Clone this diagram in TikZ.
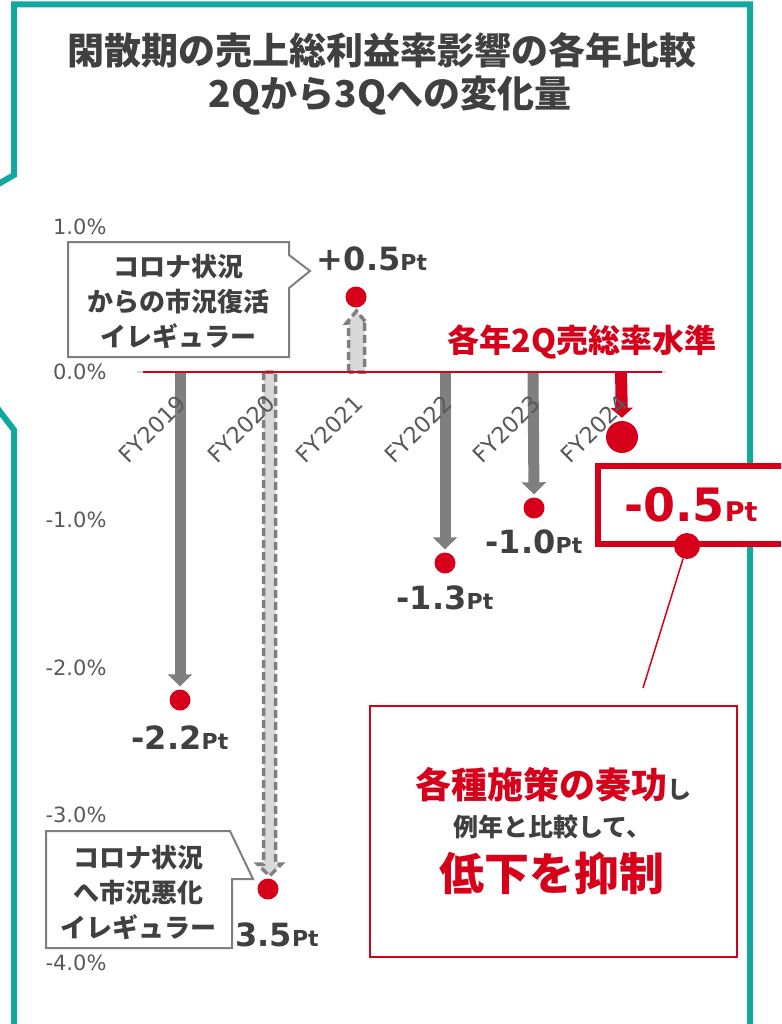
\documentclass[tikz,border=0pt]{standalone}
\usepackage{fontspec}
\setmainfont{DejaVu Sans}
\newfontfamily\jp{Noto Sans CJK JP}
\usetikzlibrary{arrows.meta}
\usetikzlibrary{calc}

\definecolor{framegreen}{RGB}{18,168,160}
\definecolor{accred}{RGB}{215,0,27}
\definecolor{bargray}{RGB}{127,127,127}
\definecolor{barlight}{RGB}{217,217,217}
\definecolor{textgray}{RGB}{64,64,64}
\definecolor{axisgray}{RGB}{89,89,89}

\newcommand{\ptval}[1]{{\fontsize{32}{32}\selectfont #1}{\fontsize{22}{22}\selectfont Pt}}

\begin{document}
\begin{tikzpicture}[x=1pt, y=-1pt,
gbar/.style = {line width=11pt, bargray, -{Triangle[width=24pt,length=12pt]}, shorten >=3pt},
dbar/.style = {draw=bargray, fill=barlight, line width=3.5pt, dash pattern=on 8pt off 4pt},
valdot/.style = {circle, fill=accred, inner sep=0pt, minimum size=21pt},
ylab/.style = {anchor=east, text=axisgray, font=\fontsize{21}{21}\selectfont},
fylab/.style = {anchor=east, rotate=45, inner sep=0pt, text=axisgray, font=\fontsize{22.5}{22.5}\selectfont},
ptlab/.style = {text=textgray, font=\bfseries},
bubble/.style = {draw=bargray, line width=2pt, fill=white},
bubtext/.style = {align=center, text=textgray, font=\jp\bfseries\fontsize{26}{35}\selectfont}]

\useasboundingbox (0,0) rectangle (781,1024);
\clip (0,0) rectangle (781,1024);
\fill[white] (0,0) rectangle (781,1024);

% frame
\draw[framegreen, line width=6pt] (14,1040) -- (14,430) -- (-12,396) (-12,190) -- (14,175) -- (14,4.5) -- (750,4.5) -- (750,1040);

% title
\node[text=textgray, font=\jp\bfseries\fontsize{37}{37}\selectfont] (title1) at (382,50) {閑散期の売上総利益率影響の各年比較};
\node[text=textgray, font=\jp\bfseries\fontsize{37}{37}\selectfont] (title2) at (390,96) {2Qから3Qへの変化量};

% y axis
\node[ylab] (y1) at (110,227) {1.0\%};
\node[ylab] (y0) at (110,372) {0.0\%};
\node[ylab] (ym1) at (110,520) {-1.0\%};
\node[ylab] (ym2) at (110,668) {-2.0\%};
\node[ylab] (ym3) at (110,815) {-3.0\%};
\node[ylab] (ym4) at (110,963) {-4.0\%};

\coordinate (axl) at (137,372);
\coordinate (axr) at (666,372);
\draw[barlight, line width=2.5pt] (axl) -- (axr);

% dots
\node[valdot] (d19) at (180,700) {};
\node[valdot] (d20) at (268,889) {};
\node[valdot] (d21) at (356,297) {};
\node[valdot] (d22) at (445,563) {};
\node[valdot] (d23) at (534,508) {};
\node[valdot, minimum size=32pt] (d24) at (622,437) {};

% bars
\coordinate (z19) at (180,372);
\coordinate (z20) at (269.5,372);
\coordinate (t20) at (269.5,876);
\coordinate (z21) at (356.5,372);
\coordinate (t21) at (356.5,311);
\coordinate (z22) at (445,372);
\coordinate (z23) at (533,372);
\coordinate (z24) at (621,372);

\draw[gbar] (z19) -- (d19.north);
\draw[gbar] (z22) -- (d22.north);
\draw[gbar] (z23) -- (d23.north);
\draw[dbar] ($(z20)+(-6,0)$) -- ($(t20)+(-6,-12)$) -- ($(t20)+(-12,-12)$) -- (t20)
  -- ($(t20)+(12,-12)$) -- ($(t20)+(6,-12)$) -- ($(z20)+(6,0)$) -- cycle;
\draw[dbar] ($(z21)+(-8,0)$) -- ($(t21)+(-8,12)$) -- ($(t21)+(-10,12)$) -- (t21)
  -- ($(t21)+(10,12)$) -- ($(t21)+(8,12)$) -- ($(z21)+(8,0)$) -- cycle;
\draw[line width=12pt, accred, -{Triangle[width=22pt,length=10pt]}, shorten >=3pt] (z24) -- (d24.north);

% zero line
\draw[accred, line width=1.5pt] (143,372) -- (662,372);
\node[text=accred, font=\jp\bfseries\fontsize{32}{32}\selectfont] (level) at (582,342) {各年2Q売総率水準};

% year labels
\node[fylab] (fy19) at (182,399) {FY2019};
\node[fylab] (fy20) at (271,399) {FY2020};
\node[fylab] (fy21) at (359,399) {FY2021};
\node[fylab] (fy22) at (448,399) {FY2022};
\node[fylab] (fy23) at (536,399) {FY2023};
\node[fylab] (fy24) at (624,399) {FY2024};

% values
\node[ptlab] (v19) at (180,738) {\ptval{-2.2}};
\node[ptlab] (v20) at (277,935) {\ptval{3.5}};
\node[ptlab] (v21) at (372,259) {\ptval{+0.5}};
\node[ptlab] (v22) at (445,598) {\ptval{-1.3}};
\node[ptlab] (v23) at (534,542) {\ptval{-1.0}};

% callouts
\draw[bubble] (68,242) -- (289,242) -- (289,255) -- (310,271) -- (289,288) -- (289,357) -- (68,357) -- cycle;
\node[bubtext] (up) at (178,302) {コロナ状況\\からの市況復活\\イレギュラー};
\draw[bubble] (46,831) -- (230,831) -- (253,879) -- (232,879) -- (232,948) -- (46,948) -- cycle;
\node[bubtext] (down) at (138,893) {コロナ状況\\へ市況悪化\\イレギュラー};

% FY2024 result
\fill[white] (598,466) rectangle (800,544);
\draw[accred, line width=6pt] (800,466) -- (598,466) -- (598,544) -- (800,544);
\node[text=accred, font=\bfseries, inner sep=0pt] (pt24) at (691,505) {{\fontsize{46}{46}\selectfont -0.5}{\fontsize{27}{27}\selectfont Pt}};
\node[valdot, minimum size=26pt] (k24) at (687,546) {};
\coordinate (e24) at (643,688);
\draw[accred, line width=1.5pt] (k24) -- (e24);

\node[draw=accred, line width=2.5pt, fill=white, minimum width=367pt, minimum height=251pt] (note) at (553.5,831.5) {};
\node[text=accred, font=\jp\bfseries] (note1) at (553,785) {{\fontsize{36}{36}\selectfont 各種施策の奏功}{\color{textgray}\fontsize{24}{24}\selectfont し}};
\node[text=textgray, font=\jp\bfseries\fontsize{25}{25}\selectfont] (note2) at (552,827) {例年と比較して、};
\node[text=accred, font=\jp\bfseries\fontsize{45}{45}\selectfont] (note3) at (552,873) {低下を抑制};

\end{tikzpicture}
\end{document}
